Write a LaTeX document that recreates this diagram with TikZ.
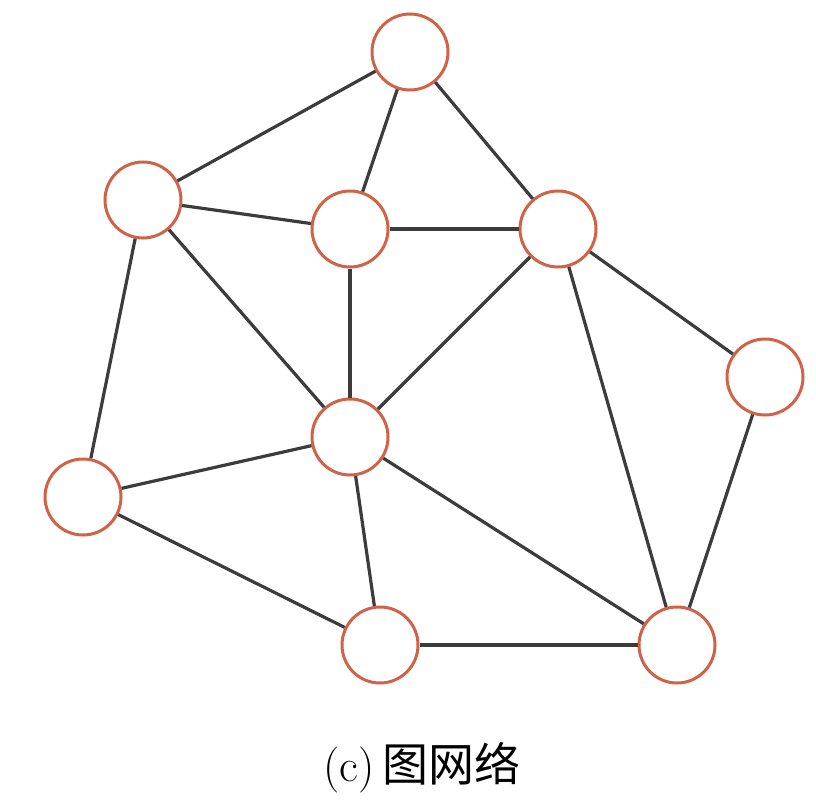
\documentclass[tikz,border=0pt]{standalone}
\usepackage{fontspec}
\newfontfamily\cjk{Noto Sans CJK SC}
\definecolor{ring}{RGB}{208,98,72}
\definecolor{edge}{RGB}{60,60,60}
\begin{document}
\begin{tikzpicture}[x=1pt,y=-1pt,
  vert/.style={circle,draw=ring,line width=3pt,fill=white,minimum size=76pt,inner sep=0pt},
  link/.style={draw=edge,line width=3.2pt}]
\useasboundingbox (0,0) rectangle (816,808);
\node[vert] (A) at (410,52) {};
\node[vert] (B) at (143,200) {};
\node[vert] (C) at (350,229) {};
\node[vert] (D) at (558,229) {};
\node[vert] (E) at (765,377) {};
\node[vert] (F) at (350,437) {};
\node[vert] (G) at (83,497) {};
\node[vert] (H) at (380,645) {};
\node[vert] (I) at (677,645) {};
\foreach \u/\v in {A/B,A/C,A/D,B/C,C/D,B/F,B/G,C/F,D/F,D/E,D/I,E/I,F/G,F/H,F/I,G/H,H/I}
  \draw[link] (\u) -- (\v);
\node (cap) at (422,768) {\fontsize{46}{50}\selectfont (c)\,{\cjk 图网络}};
\end{tikzpicture}
\end{document}
